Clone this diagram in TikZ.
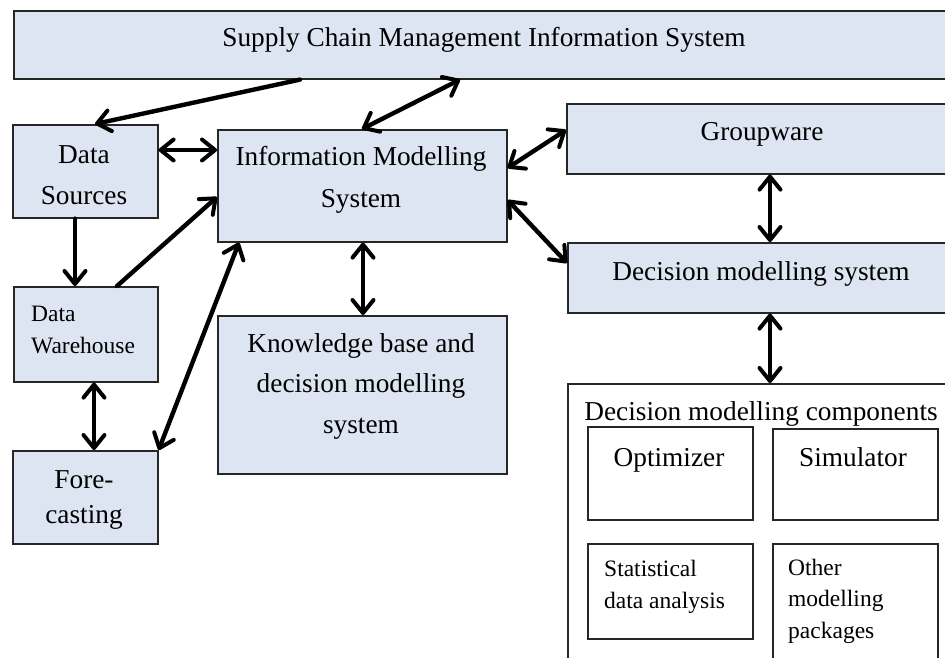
\documentclass[tikz,border=0pt]{standalone}
\usepackage{fontspec}
\setmainfont{Liberation Serif}
\usetikzlibrary{arrows.meta}

\definecolor{boxfill}{HTML}{DCE5F1}
\definecolor{boxline}{HTML}{262626}

\tikzset{
  blockbox/.style={draw=boxline, line width=1.6pt, fill=boxfill, inner sep=0pt, anchor=north west},
  compbox/.style={draw=boxline, line width=1.6pt, fill=white, inner sep=0pt, anchor=north west},
  bigtext/.style={inner sep=0pt, align=center, anchor=base, font=\fontsize{27.3}{41}\selectfont},
  smalltext/.style={inner sep=0pt, align=left, anchor=base west, font=\fontsize{23.5}{31.5}\selectfont},
  barb/.tip={Straight Barb[length=13pt, width=21pt, line width=4pt, round]},
  link/.style={line width=4.4pt, line cap=round, arrows={-barb}},
  dlink/.style={line width=4.4pt, line cap=round, arrows={barb-barb}}
}

\begin{document}
\begin{tikzpicture}[x=1pt, y=-1pt]
  \useasboundingbox (0,0) rectangle (945,657);
  \clip (0,0) rectangle (945,657);

  % main blocks
  \node[blockbox, minimum width=937pt, minimum height=68pt] (scm) at (13,10) {};
  \node[blockbox, minimum width=145pt, minimum height=93pt] (ds) at (12,124) {};
  \node[blockbox, minimum width=144pt, minimum height=95pt] (dw) at (13,286) {};
  \node[blockbox, minimum width=145pt, minimum height=93pt] (fc) at (12,450) {};
  \node[blockbox, minimum width=289pt, minimum height=112pt] (ims) at (217,129) {};
  \node[blockbox, minimum width=289pt, minimum height=158pt] (kb) at (217,315) {};
  \node[blockbox, minimum width=384pt, minimum height=70pt] (gw) at (566,103) {};
  \node[blockbox, minimum width=383pt, minimum height=70pt] (dms) at (567,242) {};

  % decision modelling components
  \node[compbox, minimum width=383pt, minimum height=290pt] (dmc) at (567,383) {};
  \node[compbox, minimum width=165pt, minimum height=93pt] (opt) at (587,426) {};
  \node[compbox, minimum width=165pt, minimum height=91pt] (sim) at (772,428) {};
  \node[compbox, minimum width=165pt, minimum height=95pt] (sda) at (587,543) {};
  \node[compbox, minimum width=165pt, minimum height=130pt] (omp) at (772,543) {};

  % labels (positioned by the baseline of their last line)
  \node[bigtext] (scmT) at (484,46) {Supply Chain Management Information System};
  \node[bigtext] (dsT) at (84,204) {Data\\Sources};
  \node[smalltext, font=\fontsize{23.5}{32}\selectfont] (dwT) at (31,353) {Data\\Warehouse};
  \node[bigtext, font=\fontsize{27.3}{35}\selectfont] (fcT) at (84,523) {Fore-\\casting};
  \node[bigtext, font=\fontsize{27.3}{42}\selectfont] (imsT) at (361,207) {Information Modelling\\System};
  \node[bigtext, font=\fontsize{27.3}{40.5}\selectfont] (kbT) at (361,433) {Knowledge base and\\decision modelling\\system};
  \node[bigtext] (gwT) at (762,140) {Groupware};
  \node[bigtext] (dmsT) at (761,280) {Decision modelling system};
  \node[bigtext] (dmcT) at (761,420) {Decision modelling components};
  \node[bigtext] (optT) at (669,466) {Optimizer};
  \node[bigtext] (simT) at (853,466) {Simulator};
  \node[smalltext] (sdaT) at (604,608) {Statistical\\data analysis};
  \node[smalltext] (ompT) at (788,638) {Other\\modelling\\packages};

  % connectors
  \draw[link]  ([xshift=287pt]scm.south west) -- ([xshift=83pt]ds.north west);
  \draw[dlink] ([xshift=447pt]scm.south west) -- ([xshift=145pt]ims.north west);
  \draw[dlink] ([yshift=-26pt]ds.north east) -- ([yshift=-21pt]ims.north west);
  \draw[link]  ([xshift=63pt]ds.south west) -- ([xshift=62pt]dw.north west);
  \draw[link]  ([xshift=104pt]dw.north west) -- ([yshift=-68pt]ims.north west);
  \draw[dlink] (fc.north east) -- ([xshift=22pt]ims.south west);
  \draw[dlink] ([xshift=81pt]dw.south west) -- ([xshift=82pt]fc.north west);
  \draw[dlink] ([xshift=146pt]ims.south west) -- ([xshift=146pt]kb.north west);
  \draw[dlink] ([yshift=-39pt]ims.north east) -- ([yshift=-27pt]gw.north west);
  \draw[dlink] ([yshift=-71pt]ims.north east) -- ([yshift=-21pt]dms.north west);
  \draw[dlink] ([xshift=204pt]gw.south west) -- ([xshift=203pt]dms.north west);
  \draw[dlink] ([xshift=203pt]dms.south west) -- ([xshift=203pt]dmc.north west);
\end{tikzpicture}
\end{document}
